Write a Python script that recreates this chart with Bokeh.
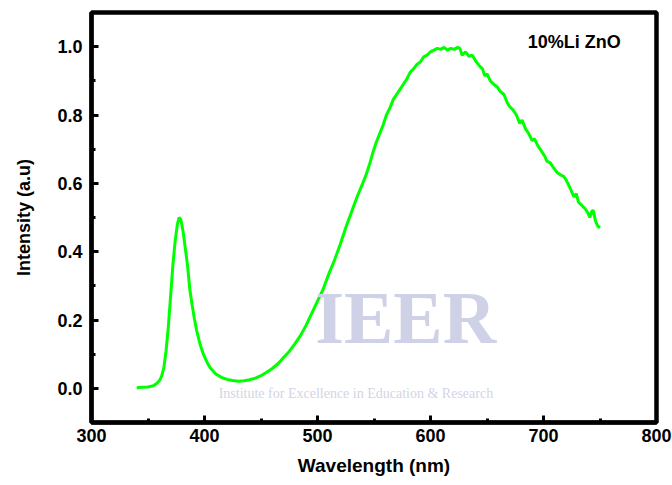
from bokeh.plotting import figure
from bokeh.models import SingleIntervalTicker, NumeralTickFormatter, Label
from bokeh.embed import file_html
from bokeh.resources import INLINE

# Photoluminescence spectrum of 10% Li-doped ZnO
wavelength = [340, 345, 350, 355, 358, 360, 362, 364, 366, 368, 370, 372, 374, 376, 377.5,
              379, 381, 383, 385, 387, 389, 391, 393, 396, 399, 402, 405, 410, 415, 420,
              425, 430, 435, 440, 445, 450, 455, 460, 465, 470, 475, 480, 485, 490, 495,
              500, 505, 510, 515, 520, 525, 530, 535, 540, 543, 546, 549, 552, 555, 558,
              561, 564, 567, 570, 573, 576, 579, 582, 585, 588, 591, 594, 597, 600, 603,
              606, 609, 612, 615, 618, 621, 624, 626, 628, 631, 634, 637, 640, 643, 646,
              648, 650, 653, 656, 659, 662, 665, 668, 670, 673, 676, 679, 681, 684, 687,
              690, 692, 695, 698, 701, 703, 706, 709, 712, 715, 718, 720, 723, 725, 727,
              729, 731, 734, 737, 739, 741, 743, 744, 746, 748, 750]
intensity = [0.002, 0.003, 0.004, 0.008, 0.015, 0.022, 0.035, 0.06, 0.11, 0.18, 0.27, 0.36, 0.43, 0.48, 0.50,
             0.495, 0.46, 0.41, 0.36, 0.29, 0.245, 0.205, 0.17, 0.13, 0.10, 0.078, 0.06, 0.042, 0.032, 0.026,
             0.023, 0.021, 0.022, 0.025, 0.03, 0.037, 0.047, 0.058, 0.072, 0.09, 0.108, 0.13, 0.155, 0.185, 0.22,
             0.255, 0.29, 0.335, 0.375, 0.42, 0.47, 0.515, 0.56, 0.60, 0.625, 0.655, 0.69, 0.72, 0.745, 0.77,
             0.80, 0.82, 0.845, 0.86, 0.875, 0.89, 0.905, 0.925, 0.935, 0.948, 0.955, 0.97, 0.975, 0.985, 0.99,
             0.995, 0.992, 0.998, 0.99, 0.995, 0.992, 0.998, 0.995, 0.975, 0.985, 0.972, 0.975, 0.958, 0.945, 0.935,
             0.915, 0.92, 0.90, 0.89, 0.882, 0.868, 0.86, 0.835, 0.825, 0.815, 0.80, 0.775, 0.785, 0.76, 0.745,
             0.725, 0.73, 0.71, 0.695, 0.68, 0.665, 0.66, 0.645, 0.632, 0.625, 0.62, 0.61, 0.59, 0.575, 0.56,
             0.57, 0.545, 0.535, 0.525, 0.515, 0.50, 0.52, 0.52, 0.49, 0.475, 0.47]

x_label = "Wavelength (nm)"
y_label = "Intensity (a.u)"
sample_label = "10%Li ZnO"

FONT = "Liberation Sans"

p = figure(width=672, height=485, x_range=(300, 800), y_range=(-0.1, 1.1),
           output_backend="svg", toolbar_location=None,
           min_border_left=91, min_border_right=16, min_border_top=12, min_border_bottom=63)

p.grid.visible = False
p.outline_line_color = "black"
p.outline_line_width = 4.5
p.background_fill_color = "white"
p.border_fill_color = "white"

# watermark
p.add_layout(Label(x=578, y=0.206, text="IEER", text_font="Liberation Serif", text_font_style="bold",
                   text_font_size="74px", text_color="#cfd1e6", text_align="center",
                   text_baseline="alphabetic"))
p.add_layout(Label(x=534, y=-0.016, text="Institute for Excellence in Education & Research",
                   text_font="Liberation Serif", text_font_size="14px", text_color="#d3d4e6",
                   text_align="center", text_baseline="alphabetic"))

p.line(wavelength, intensity, line_color="#00ff00", line_width=3)

p.xaxis.ticker = SingleIntervalTicker(interval=100, num_minor_ticks=2)
p.yaxis.ticker = SingleIntervalTicker(interval=0.2, num_minor_ticks=2)
p.yaxis.formatter = NumeralTickFormatter(format="0.0")

for ax in (p.xaxis[0], p.yaxis[0]):
    ax.axis_line_color = "black"
    ax.axis_line_width = 4
    ax.major_tick_in = 7
    ax.major_tick_out = 0
    ax.major_tick_line_width = 3
    ax.minor_tick_in = 4
    ax.minor_tick_out = 0
    ax.minor_tick_line_width = 3
    ax.major_label_text_font = FONT
    ax.major_label_text_font_style = "bold"
    ax.major_label_text_font_size = "18px"
    ax.major_label_text_color = "black"
    ax.axis_label_text_font = FONT
    ax.axis_label_text_font_style = "bold"
    ax.axis_label_text_color = "black"

p.xaxis.axis_label = x_label
p.xaxis.axis_label_text_font_size = "19px"
p.xaxis.major_label_standoff = 6
p.xaxis.axis_label_standoff = 10

p.yaxis.axis_label = y_label
p.yaxis.axis_label_text_font_size = "18px"
p.yaxis.major_label_standoff = 9
p.yaxis.axis_label_standoff = 20

p.add_layout(Label(x=686, y=1.014, text=sample_label, text_font=FONT, text_font_style="bold",
                   text_font_size="18px", text_color="black", text_baseline="middle"))

open("out.html", "w").write(file_html(p, INLINE))
